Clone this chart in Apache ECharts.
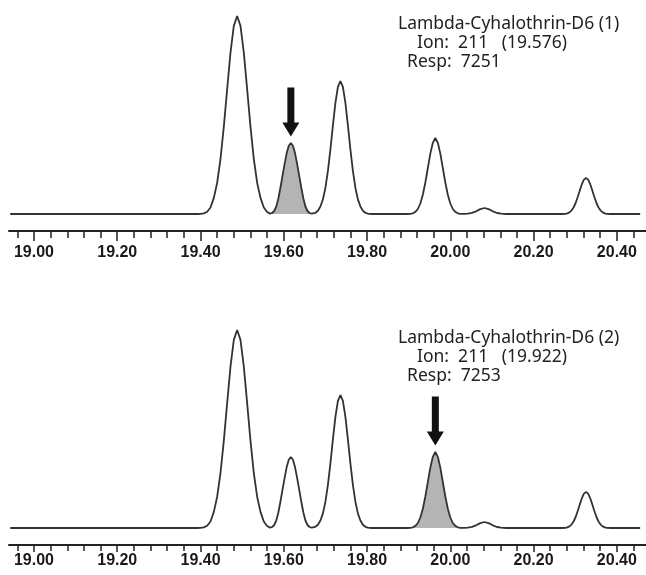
<!DOCTYPE html>
<html><head><meta charset="utf-8">
<script src="https://cdn.jsdelivr.net/npm/echarts@6/dist/echarts.min.js"></script>
<style>html,body{margin:0;padding:0;background:#fff}#c{width:646px;height:575px}</style>
</head><body><div id="c"></div>
<script>
// Retention time (min) and response of the chromatogram trace
const traceTime = [
  18.943, 19.300, 19.392,
  19.400, 19.408, 19.416, 19.424, 19.432, 19.440, 19.448, 19.456, 19.464, 19.472, 19.480,
  19.488, 19.496, 19.504, 19.512, 19.520, 19.528, 19.536, 19.544, 19.552, 19.560,
  19.567,
  19.572, 19.577, 19.582, 19.587, 19.592, 19.597, 19.602, 19.607, 19.612, 19.617,
  19.622, 19.627, 19.632, 19.637, 19.642, 19.647, 19.652, 19.657, 19.662, 19.667,
  19.676, 19.682, 19.688, 19.694, 19.700, 19.706, 19.712, 19.718, 19.724, 19.730, 19.736,
  19.742, 19.748, 19.754, 19.760, 19.766, 19.772, 19.778, 19.784, 19.790, 19.796, 19.802, 19.810,
  19.896,
  19.904, 19.910, 19.916, 19.922, 19.928, 19.934, 19.940, 19.946, 19.952, 19.958, 19.964,
  19.970, 19.976, 19.982, 19.988, 19.994, 20.000, 20.006, 20.012, 20.018, 20.024,
  20.034, 20.042, 20.052, 20.062, 20.072, 20.082, 20.092, 20.102, 20.112, 20.122, 20.134,
  20.268,
  20.276, 20.281, 20.286, 20.291, 20.296, 20.301, 20.306, 20.311, 20.316, 20.321, 20.326,
  20.331, 20.336, 20.341, 20.346, 20.351, 20.356, 20.361, 20.366, 20.371, 20.376, 20.386,
  20.456
];
const traceResp = [
  0, 0, 0,
  0.2, 0.6, 2.2, 6.5, 16.1, 31.3, 55.0, 87.3, 124.9, 161.3, 188.1,
  198, 188.1, 161.3, 124.9, 87.3, 55.0, 31.3, 16.1, 6.5, 2.0,
  0.4,
  1.0, 3.0, 7.5, 15.5, 26.5, 38.3, 50.2, 60.9, 68.3, 71,
  68.3, 60.9, 50.2, 38.3, 26.5, 15.5, 7.5, 3.0, 1.0, 0.4,
  1.2, 3.3, 7.5, 14.6, 26.3, 43.2, 64.7, 88.7, 111.1, 127.2, 133,
  127.2, 111.1, 88.7, 64.7, 43.2, 26.3, 14.6, 7.5, 3.3, 1.2, 0.3, 0,
  0,
  0.2, 0.7, 2.1, 5.0, 10.5, 19.3, 31.5, 46.0, 60.4, 71.2, 76,
  71.2, 60.4, 46.0, 31.5, 19.3, 10.5, 5.0, 2.1, 0.7, 0.2,
  0.1, 0.4, 1.1, 2.7, 4.9, 6, 4.9, 2.7, 1.0, 0.3, 0,
  0,
  0.2, 0.6, 1.6, 3.4, 6.5, 11.0, 17.0, 23.6, 29.8, 34.4, 36,
  34.4, 29.8, 23.6, 17.0, 11.0, 6.5, 3.4, 1.6, 0.6, 0.2, 0,
  0
];
const minorTicks = [18.96, 19.00, 19.04, 19.08, 19.12, 19.16, 19.20, 19.24, 19.28, 19.32, 19.36,
  19.40, 19.44, 19.48, 19.52, 19.56, 19.60, 19.64, 19.68, 19.72, 19.76, 19.80, 19.84, 19.88,
  19.92, 19.96, 20.00, 20.04, 20.08, 20.12, 20.16, 20.20, 20.24, 20.28, 20.32, 20.36, 20.40, 20.44];
const majorTicks = [19.00, 19.20, 19.40, 19.60, 19.80, 20.00, 20.20, 20.40];
const tickLabels = ['19.00', '19.20', '19.40', '19.60', '19.80', '20.00', '20.20', '20.40'];
// integrated (shaded) peak windows, one per panel
const shadeRanges = [[19.567, 19.667], [19.910, 20.018]];
// apex of the marked peak in each panel
const arrowPeaks = [[19.617, 71], [19.964, 76]];
const annotations = [
  ['Lambda-Cyhalothrin-D6 (1)', 'Ion:  211   (19.576)', 'Resp:  7251'],
  ['Lambda-Cyhalothrin-D6 (2)', 'Ion:  211   (19.922)', 'Resp:  7253']
];

const pairs = traceTime.map((t, i) => [t, traceResp[i]]);
const chart = echarts.init(document.getElementById('c'), null, {renderer: 'canvas'});

const gridTops = [14, 328];
const labelMargins = [14, 8];
const minorLen = [7, 6];
const majorLen = [10, 7];
const grids = [], xAxes = [], yAxes = [], series = [], graphics = [];
const arrowPath = 'path://M5,0 L12,0 L12,35 L17,35 L8.5,49 L0,35 L5,35 Z';
const textOffsets = [[398, 0], [417, 19], [407, 38]];

gridTops.forEach((top, g) => {
  grids.push({left: 9, width: 639, top: top, height: 217, containLabel: false});
  xAxes.push({
    gridIndex: g, type: 'value', min: 18.94, max: 20.47, position: 'bottom',
    axisLine: {show: true, onZero: false, lineStyle: {color: '#222', width: 2}},
    axisTick: {show: true, customValues: minorTicks, length: minorLen[g], lineStyle: {color: '#222', width: 1.5}},
    axisLabel: {show: false}, splitLine: {show: false}
  });
  xAxes.push({
    gridIndex: g, type: 'value', min: 18.94, max: 20.47, position: 'bottom',
    axisLine: {show: false, onZero: false},
    axisTick: {show: true, customValues: majorTicks, length: majorLen[g], lineStyle: {color: '#222', width: 1.5}},
    axisLabel: {
      show: true, customValues: majorTicks, margin: labelMargins[g],
      formatter: v => { const k = majorTicks.findIndex(m => Math.abs(m - v) < 1e-6); return k >= 0 ? tickLabels[k] : ''; },
      fontFamily: 'Liberation Sans', fontWeight: 'bold', fontSize: 16, color: '#1a1a1a'
    },
    splitLine: {show: false}
  });
  yAxes.push({gridIndex: g, type: 'value', min: -17, max: 200, show: false, splitLine: {show: false}});

  const [lo, hi] = shadeRanges[g];
  series.push({
    type: 'line', xAxisIndex: 2 * g, yAxisIndex: g, silent: true,
    data: pairs.filter(p => p[0] >= lo - 1e-9 && p[0] <= hi + 1e-9),
    showSymbol: false, symbol: 'none',
    lineStyle: {opacity: 0},
    areaStyle: {color: '#b4b4b4', opacity: 1, origin: 0},
    markPoint: {
      silent: true, animation: false,
      symbol: arrowPath, symbolSize: [17, 49], symbolOffset: [0, -31], symbolKeepAspect: false,
      itemStyle: {color: '#111'}, label: {show: false},
      data: [{coord: arrowPeaks[g]}]
    }
  });
  series.push({
    type: 'line', xAxisIndex: 2 * g, yAxisIndex: g, silent: true,
    data: pairs, showSymbol: false, symbol: 'none',
    lineStyle: {color: '#333', width: 1.8}
  });

  annotations[g].forEach((txt, i) => {
    graphics.push({
      type: 'text', left: textOffsets[i][0], top: top + 1 + textOffsets[i][1], silent: true,
      style: {text: txt, font: '17.5px "Noto Sans"', fill: '#222'}
    });
  });
});

chart.setOption({
  animation: false,
  grid: grids, xAxis: xAxes, yAxis: yAxes, series: series, graphic: graphics
});
</script></body></html>
